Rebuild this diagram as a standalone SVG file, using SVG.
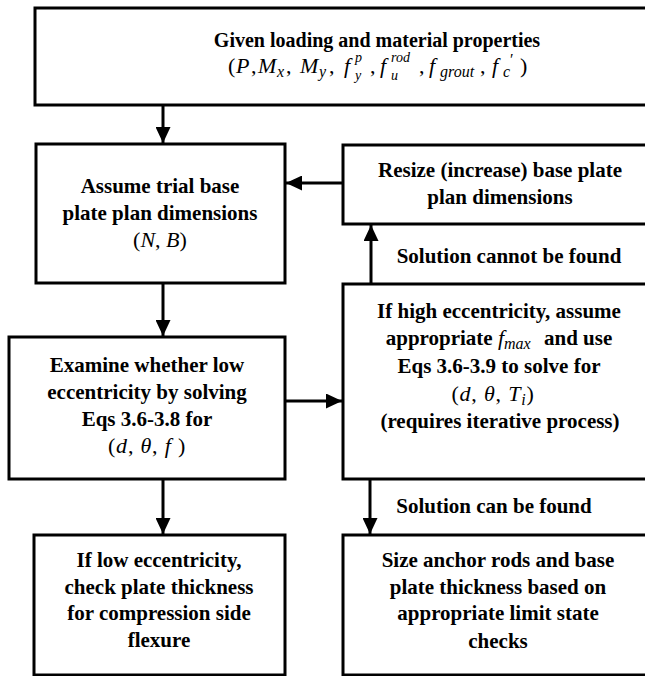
<svg xmlns="http://www.w3.org/2000/svg" width="645" height="676" viewBox="0 0 645 676">
<defs>
<style>
.box{fill:#fff;stroke:#000;stroke-width:3}
.t{font-family:"Liberation Serif","Times New Roman",serif;font-weight:bold;font-size:21px;text-anchor:middle;fill:#000}
.m{font-family:"Liberation Serif","Times New Roman",serif;font-weight:normal;font-size:22px;text-anchor:middle;fill:#000}
.f{font-family:"Liberation Serif","Times New Roman",serif;font-weight:normal;font-size:22px;fill:#000}
.i{font-style:italic;font-weight:normal}
.s{font-style:italic;font-weight:normal;font-size:16px}
.k{font-style:italic;font-weight:normal;font-size:14px}
.c{fill:none;stroke:#000;stroke-width:3}
</style>
<marker id="ah" markerUnits="userSpaceOnUse" markerWidth="16" markerHeight="15" refX="16" refY="7.5" orient="auto">
<path d="M0,0 L16,7.5 L0,15 z" fill="#000"/>
</marker>
</defs>
<rect width="645" height="676" fill="#fff"/>

<g id="given">
<rect class="box" x="35" y="8" width="684" height="97"/>
<text class="t" x="377" y="47" style="font-size:20px">Given loading and material properties</text>
<text class="f" y="73"><tspan x="228">(</tspan><tspan class="i" x="236">P</tspan><tspan x="251">,</tspan><tspan class="i" x="258">M</tspan><tspan class="s" x="277" y="77">x</tspan><tspan x="286" y="73">,</tspan><tspan class="i" x="300">M</tspan><tspan class="s" x="319" y="77">y</tspan><tspan x="329" y="73">,</tspan><tspan class="i" x="344">f</tspan><tspan class="k" x="355" y="62">p</tspan><tspan class="k" x="355" y="80">y</tspan><tspan x="370" y="73">,</tspan><tspan class="i" x="380">f</tspan><tspan class="k" x="391" y="62">rod</tspan><tspan class="k" x="391" y="80">u</tspan><tspan x="419" y="73">,</tspan><tspan class="i" x="429">f</tspan><tspan class="s" x="440" y="77">grout</tspan><tspan x="480" y="73">,</tspan><tspan class="i" x="492">f</tspan><tspan class="s" x="503" y="77">c</tspan><tspan x="510" y="65" style="font-size:16px">′</tspan><tspan x="520" y="73">)</tspan></text>
</g>

<g id="assume">
<rect class="box" x="36" y="144" width="249" height="139"/>
<text class="t" x="160" y="193">Assume trial base</text>
<text class="t" x="160" y="220">plate plan dimensions</text>
<text class="m" x="160" y="247">(<tspan class="i">N</tspan>, <tspan class="i">B</tspan>)</text>
</g>

<g id="resize">
<rect class="box" x="343" y="145" width="314" height="79"/>
<text class="t" x="500" y="177">Resize (increase) base plate</text>
<text class="t" x="500" y="204">plan dimensions</text>
</g>

<g id="high">
<rect class="box" x="343" y="284" width="314" height="195"/>
<text class="t" x="499" y="318">If high eccentricity, assume</text>
<text class="t" x="499" y="345">appropriate <tspan class="i" style="font-size:22px">f</tspan><tspan class="s" dy="4">max</tspan><tspan dx="8" dy="-4"> and use</tspan></text>
<text class="t" x="499" y="373">Eqs 3.6-3.9 to solve for</text>
<text class="m" x="493" y="401" style="letter-spacing:0.8px">(<tspan class="i">d</tspan>, <tspan class="i">θ</tspan>, <tspan class="i">T</tspan><tspan class="s" dy="4">i</tspan><tspan dy="-4">)</tspan></text>
<text class="t" x="500" y="428">(requires iterative process)</text>
</g>

<g id="examine">
<rect class="box" x="9" y="337" width="276" height="142"/>
<text class="t" x="147" y="372">Examine whether low</text>
<text class="t" x="147" y="399">eccentricity by solving</text>
<text class="t" x="147" y="426">Eqs 3.6-3.8 for</text>
<text class="m" x="147" y="453" style="letter-spacing:0.8px">(<tspan class="i">d</tspan>, <tspan class="i">θ</tspan>, <tspan class="i">f</tspan> )</text>
</g>

<g id="lowecc">
<rect class="box" x="34" y="535" width="251" height="140"/>
<text class="t" x="159" y="567">If low eccentricity,</text>
<text class="t" x="159" y="594">check plate thickness</text>
<text class="t" x="159" y="620">for compression side</text>
<text class="t" x="159" y="647">flexure</text>
</g>

<g id="size">
<rect class="box" x="343" y="535" width="314" height="140"/>
<text class="t" x="498" y="567">Size anchor rods and base</text>
<text class="t" x="498" y="594">plate thickness based on</text>
<text class="t" x="498" y="620">appropriate limit state</text>
<text class="t" x="498" y="648">checks</text>
</g>

<g id="connectors">
<line class="c" x1="163" y1="105" x2="163" y2="143" marker-end="url(#ah)"/>
<line class="c" x1="343" y1="183" x2="286" y2="183" marker-end="url(#ah)"/>
<line class="c" x1="371" y1="284" x2="371" y2="225" marker-end="url(#ah)"/>
<line class="c" x1="163" y1="283" x2="163" y2="336" marker-end="url(#ah)"/>
<line class="c" x1="285" y1="401" x2="342" y2="401" marker-end="url(#ah)"/>
<line class="c" x1="163" y1="479" x2="163" y2="534" marker-end="url(#ah)"/>
<line class="c" x1="370" y1="479" x2="370" y2="534" marker-end="url(#ah)"/>
<text class="t" x="509" y="263">Solution cannot be found</text>
<text class="t" x="494" y="513">Solution can be found</text>
</g>
</svg>
